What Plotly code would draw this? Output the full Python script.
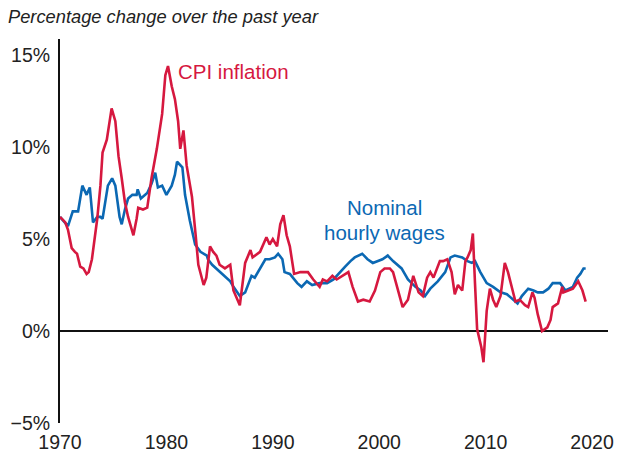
import plotly.graph_objects as go

# CPI inflation, % change over past year (decimal year, value)
cpi_years = [1970.0, 1970.5, 1970.75, 1971.1, 1971.4, 1971.6, 1971.9, 1972.2, 1972.5, 1972.7,
             1973.0, 1973.5, 1973.8, 1974.0, 1974.4, 1974.7, 1974.85, 1975.2, 1975.5, 1975.8,
             1976.1, 1976.4, 1976.7, 1976.9, 1977.2, 1977.35, 1977.8, 1978.2, 1978.6, 1979.1,
             1979.6, 1979.9, 1980.15, 1980.5, 1980.8, 1981.1, 1981.3, 1981.6, 1981.9, 1982.4,
             1982.75, 1983.0, 1983.5, 1983.75, 1984.1, 1984.4, 1984.7, 1985.0, 1985.5, 1985.75,
             1986.0, 1986.3, 1986.6, 1986.9, 1987.4, 1987.9, 1988.1, 1988.8, 1989.4, 1989.7,
             1990.0, 1990.4, 1990.7, 1991.0, 1991.3, 1991.6, 1992.0, 1992.6, 1993.3, 1993.8,
             1994.4, 1994.7, 1995.1, 1995.6, 1996.0, 1996.8, 1997.1, 1997.5, 1998.0, 1998.5,
             1999.1, 1999.6, 2000.1, 2000.5, 2001.0, 2001.3, 2001.8, 2002.2, 2002.7, 2003.2,
             2003.7, 2004.1, 2004.5, 2004.8, 2005.1, 2005.4, 2005.7, 2006.0, 2006.4, 2006.8,
             2007.1, 2007.4, 2007.8, 2008.1, 2008.3, 2008.6, 2008.8, 2009.0, 2009.2, 2009.6,
             2009.8, 2010.1, 2010.4, 2010.7, 2011.0, 2011.4, 2011.8, 2012.1, 2012.4, 2012.8,
             2013.2, 2013.7, 2014.0, 2014.4, 2014.6, 2014.9, 2015.3, 2015.8, 2016.1, 2016.3,
             2016.8, 2017.2, 2017.3, 2017.7, 2018.2, 2018.7, 2019.1, 2019.4]
cpi_values = [6.2, 5.9, 5.5, 4.5, 4.3, 4.2, 3.5, 3.4, 3.1, 3.2,
              3.9, 6.1, 7.9, 9.7, 10.4, 11.4, 12.1, 11.4, 9.5, 8.3,
              7.0, 6.2, 5.5, 5.2, 6.1, 6.7, 6.6, 6.7, 8.3, 9.9,
              11.8, 13.9, 14.4, 13.3, 12.6, 11.4, 9.9, 10.9, 9.0, 7.3,
              5.2, 3.6, 2.5, 2.9, 4.6, 4.3, 4.1, 3.6, 3.4, 3.5,
              3.6, 2.2, 1.8, 1.4, 3.7, 4.4, 4.0, 4.3, 5.1, 4.7,
              5.0, 4.6, 5.8, 6.3, 5.2, 4.6, 3.1, 3.2, 3.2, 2.8,
              2.4, 2.8, 2.7, 3.0, 2.8, 3.1, 3.2, 2.4, 1.6, 1.7,
              1.6, 2.2, 3.2, 3.4, 3.4, 3.2, 2.2, 1.3, 1.7, 3.0,
              2.1, 1.9, 2.9, 3.2, 2.9, 3.3, 3.8, 3.8, 3.9, 3.2,
              2.0, 2.5, 2.2, 3.8, 4.0, 4.4, 5.3, 2.6, 0.1, -0.9,
              -1.7, 1.1, 2.3, 1.7, 1.3, 1.9, 3.7, 3.2, 2.5, 1.6,
              1.7, 1.4, 1.3, 2.1, 1.8, 0.9, 0.0, 0.2, 0.6, 1.3,
              1.5, 2.4, 2.1, 2.2, 2.3, 2.7, 2.2, 1.6]

# Nominal hourly wages, % change over past year (decimal year, value)
wage_years = [1970.0, 1970.75, 1971.2, 1971.7, 1972.1, 1972.5, 1972.8, 1973.1, 1973.5, 1973.8,
              1974.0, 1974.5, 1974.9, 1975.2, 1975.6, 1975.8, 1976.1, 1976.4, 1976.8, 1977.2,
              1977.3, 1977.6, 1978.2, 1978.6, 1978.95, 1979.2, 1979.6, 1980.0, 1980.5, 1980.8,
              1981.0, 1981.5, 1981.75, 1982.2, 1982.7, 1983.2, 1983.8, 1983.9, 1984.3, 1984.7,
              1985.2, 1985.7, 1986.0, 1986.3, 1986.9, 1987.4, 1988.0, 1988.3, 1988.8, 1989.3,
              1989.7, 1990.2, 1990.5, 1990.9, 1991.1, 1991.6, 1992.3, 1992.7, 1993.2, 1993.7,
              1994.4, 1995.1, 1995.7, 1996.3, 1996.8, 1997.3, 1997.7, 1998.4, 1998.9, 1999.4,
              2000.3, 2000.8, 2001.3, 2002.1, 2002.7, 2003.4, 2003.9, 2004.3, 2004.8, 2005.5,
              2006.2, 2006.7, 2007.1, 2007.8, 2008.3, 2008.7, 2009.0, 2009.5, 2010.1, 2010.7,
              2011.4, 2012.0, 2012.6, 2013.0, 2013.4, 2014.0, 2014.5, 2014.9, 2015.4, 2015.9,
              2016.3, 2017.0, 2017.5, 2017.9, 2018.2, 2018.6, 2018.9, 2019.2, 2019.4]
wage_values = [6.2, 5.7, 6.5, 6.5, 7.9, 7.4, 7.8, 5.9, 6.2, 6.2,
               6.1, 7.9, 8.3, 7.9, 6.2, 5.8, 6.6, 7.2, 7.4, 7.4,
               7.7, 7.2, 7.5, 8.0, 8.6, 7.8, 7.9, 7.4, 7.9, 8.5,
               9.2, 8.9, 7.4, 6.0, 4.7, 4.3, 4.1, 3.9, 3.6, 3.4,
               3.1, 2.9, 2.7, 2.4, 1.9, 2.1, 3.0, 2.9, 3.4, 3.9,
               3.9, 4.0, 4.2, 3.9, 3.2, 3.1, 2.6, 2.4, 2.7, 2.5,
               2.6, 2.6, 2.8, 3.2, 3.5, 3.8, 4.0, 4.2, 3.9, 3.7,
               3.9, 4.1, 3.8, 3.4, 2.8, 2.4, 2.2, 1.9, 2.3, 2.7,
               3.2, 4.0, 4.1, 4.0, 3.8, 3.7, 3.8, 3.2, 2.6, 2.4,
               2.1, 2.0, 1.7, 1.5, 1.9, 2.3, 2.2, 2.1, 2.1, 2.3,
               2.6, 2.6, 2.2, 2.3, 2.4, 2.9, 3.1, 3.4, 3.4]

x_ticks = [1970, 1980, 1990, 2000, 2010, 2020]
y_ticks = [-5, 0, 5, 10, 15]
y_tick_labels = ["\u22125%", "0%", "5%", "10%", "15%"]

RED = "#D6183F"
BLUE = "#0B68B3"
FONT = "Liberation Sans, Arial, Helvetica, sans-serif"
TXT = "#222222"

fig = go.Figure()
fig.add_trace(go.Scatter(x=wage_years, y=wage_values, mode="lines",
                         line=dict(color=BLUE, width=2.6), name="Nominal hourly wages"))
fig.add_trace(go.Scatter(x=cpi_years, y=cpi_values, mode="lines",
                         line=dict(color=RED, width=2.6), name="CPI inflation"))

fig.add_annotation(x=1980.9, y=14.1, text="CPI inflation", showarrow=False,
                   xanchor="left", yanchor="middle", font=dict(family=FONT, size=20.5, color=RED))
fig.add_annotation(x=2000.5, y=6.7, text="Nominal", showarrow=False,
                   xanchor="center", yanchor="middle", font=dict(family=FONT, size=20.5, color=BLUE))
fig.add_annotation(x=2000.5, y=5.35, text="hourly wages", showarrow=False,
                   xanchor="center", yanchor="middle", font=dict(family=FONT, size=20.5, color=BLUE))

fig.update_layout(
    width=634, height=451,
    margin=dict(l=60, r=26, t=39, b=28),
    paper_bgcolor="white", plot_bgcolor="white",
    showlegend=False,
    title=dict(text="Percentage change over the past year", x=8/634, xanchor="left",
               y=1 - 17/451, yanchor="middle",
               font=dict(family=FONT, size=18.3, color=TXT, style="italic")),
    xaxis=dict(range=[1970, 2021.5], tickvals=x_ticks, ticktext=[str(t) for t in x_ticks],
               showgrid=False, zeroline=False, showline=False, ticks="",
               ticklabelstandoff=5,
               tickfont=dict(family=FONT, size=19.5, color=TXT), automargin=False),
    yaxis=dict(range=[-5, 15.87], tickvals=y_ticks, ticktext=y_tick_labels,
               showgrid=False, zeroline=True, zerolinecolor="#111111", zerolinewidth=1.5,
               showline=True, linecolor="#111111", linewidth=2, ticks="",
               ticklabelstandoff=4,
               tickfont=dict(family=FONT, size=19.5, color=TXT), automargin=False),
)

fig.write_html("out.html", config={"displayModeBar": False},
               post_script="document.body.style.margin='0px';")
